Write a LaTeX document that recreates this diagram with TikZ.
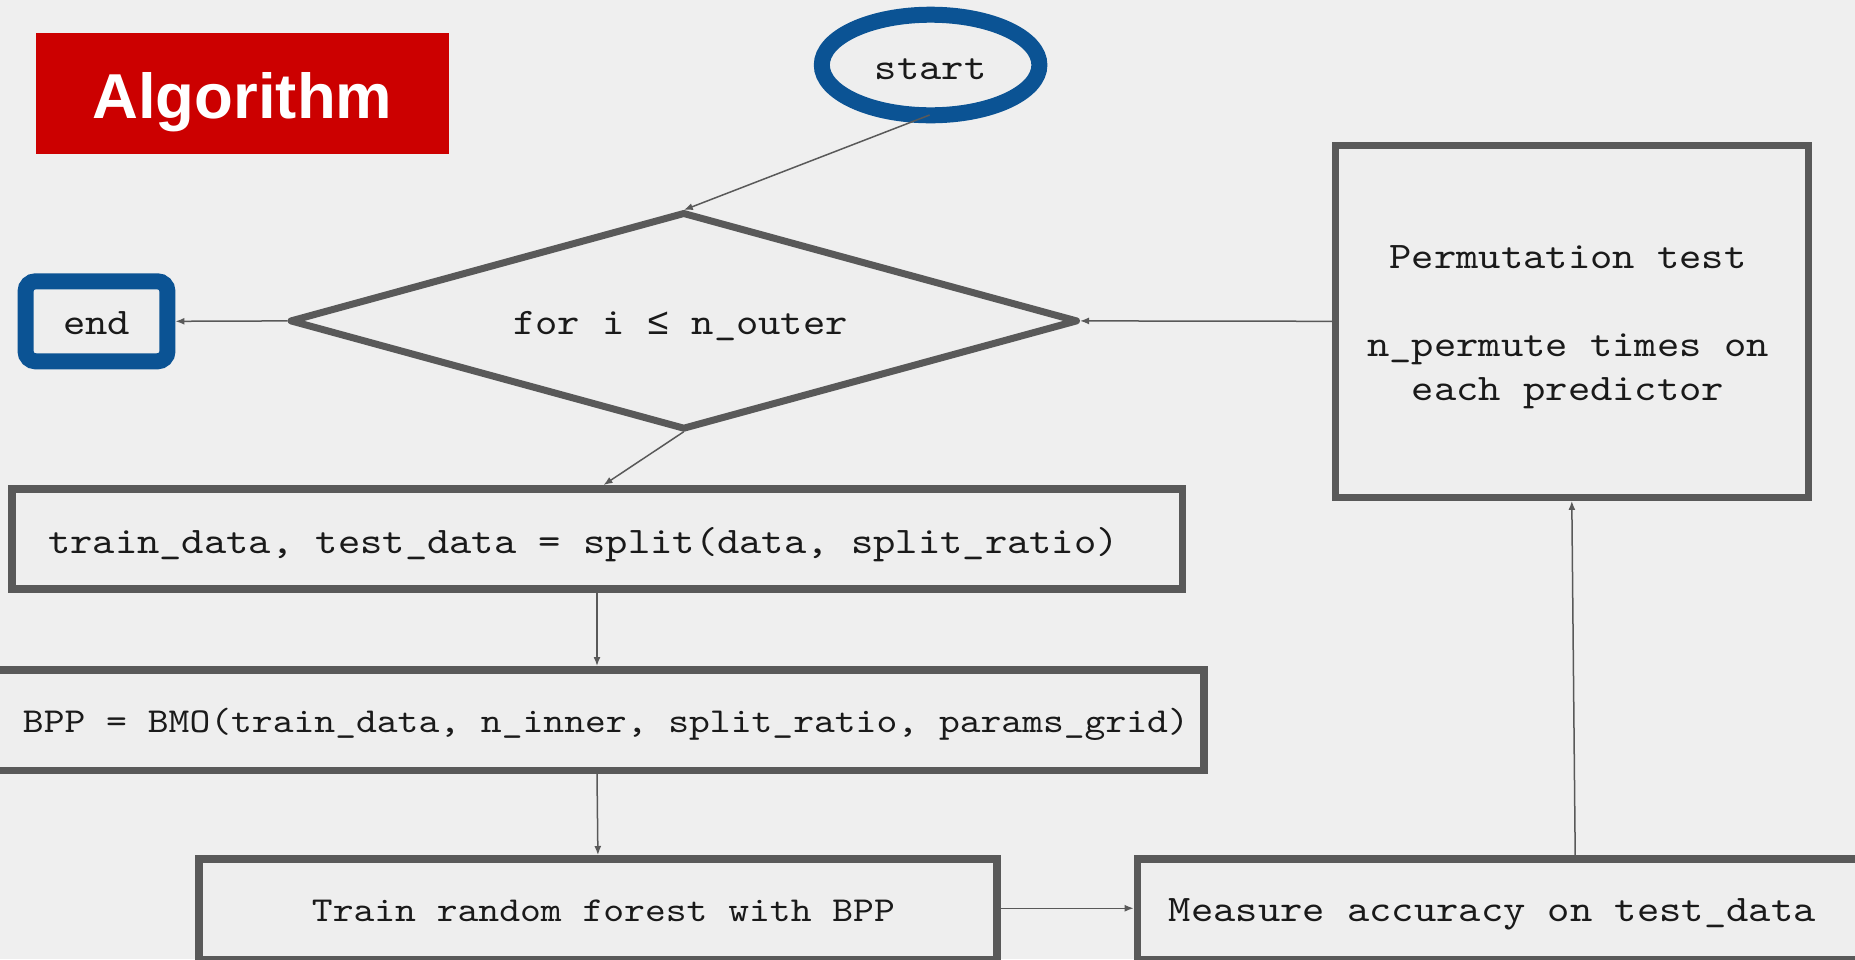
\documentclass[tikz,border=0pt]{standalone}
\usepackage{fontspec}
\setmainfont{Liberation Sans}
\newfontfamily\codefont{lmmono10-regular.otf}[FakeStretch=1.133]
\newfontfamily\symbolmono{Liberation Mono}
\usetikzlibrary{shapes.geometric,arrows.meta,calc}

\definecolor{canvas}{HTML}{EFEFEF}
\definecolor{boxfill}{HTML}{EEEEEE}
\definecolor{edgegrey}{HTML}{595959}
\definecolor{termblue}{HTML}{0B5394}
\definecolor{titlered}{HTML}{CC0000}
\definecolor{ink}{HTML}{1A1A1A}

\tikzset{
  codetext/.style={font=\codefont\fontsize{37.5}{43.3}\selectfont, text=ink},
  smalltext/.style={font=\codefont\fontsize{35}{42}\selectfont, text=ink},
  % baseline sits at half the given height below the node centre
  baseline drop/.style={text height=#1, text depth=0pt},
  stepbox/.style={rectangle, draw=edgegrey, line width=7.5pt, fill=boxfill,
                  inner sep=0pt},
  terminal/.style={draw=termblue, line width=16pt, fill=boxfill, inner sep=0pt,
                   codetext},
  flow/.style={draw=edgegrey, line width=1.5pt,
               -{Latex[length=9pt,width=7pt]}},
}

\begin{document}
\begin{tikzpicture}[x=1pt,y=-1pt]
  \useasboundingbox (0,0) rectangle (1855,959);
  \clip (0,0) rectangle (1855,959);
  \fill[canvas] (0,0) rectangle (1855,959);

  % title banner
  \node[rectangle, fill=titlered, inner sep=0pt,
        minimum width=413.2pt, minimum height=121pt,
        text=white, font=\bfseries\fontsize{63.5}{63.5}\selectfont,
        baseline drop=49.6pt] (title) at (242.4,93.5) {Algorithm};

  % terminals
  \node[terminal, ellipse, minimum width=217.6pt, minimum height=100.6pt,
        baseline drop=28.6pt] (start) at (930.6,65) {start};
  \node[terminal, rectangle, rounded corners=10pt,
        minimum width=141.9pt, minimum height=80pt,
        baseline drop=25.4pt] (end) at (96.5,321.3) {end};

  % loop condition: outline, label and its four tips
  \draw[edgegrey, line width=7pt, line join=round, fill=boxfill]
    (683.8,213.5) -- (1076.5,320.9) -- (683.8,428.2) -- (291.1,320.9) -- cycle;
  \node[codetext, inner sep=0pt, baseline drop=26.2pt] (loop) at (683.8,320.9)
    {\hspace*{-6.6pt}for i {\symbolmono ≤} n\_outer};
  \coordinate (loop-n) at (683.8,210);
  \coordinate (loop-s) at (683.8,431.7);
  \coordinate (loop-w) at (287.6,320.9);
  \coordinate (loop-e) at (1080,320.9);

  % processing steps
  \node[stepbox, codetext, minimum width=1170.5pt, minimum height=100.2pt,
        baseline drop=28.8pt] (split) at (597,538.9)
        {\hspace*{-27pt}train\_data, test\_data = split(data, split\_ratio)};
  \node[stepbox, smalltext, minimum width=1224pt, minimum height=100.5pt,
        baseline drop=24pt] (bmo) at (592,720)
        {\hspace*{27.8pt}BPP = BMO(train\_data, n\_inner, split\_ratio, params\_grid)};
  \node[stepbox, smalltext, minimum width=797.75pt, minimum height=101pt,
        baseline drop=23.5pt] (train) at (597.9,909.25)
        {\hspace*{11pt}Train random forest with BPP};
  \node[stepbox, codetext, minimum width=762.6pt, minimum height=101pt,
        baseline drop=25pt] (measure) at (1518.7,909.25)
        {\hspace*{-53pt}Measure accuracy on test\_data};
  \node[stepbox, line width=7pt, minimum width=472.6pt, minimum height=352.3pt]
        (perm) at (1571.8,321.3) {};
  \node[codetext, inner sep=0pt, anchor=base] (permtext) at (1568,268.3)
        {\begin{tabular}[t]{@{}c@{}}Permutation test\\[45.1pt]
         n\_permute times on\\each predictor\end{tabular}};

  % connectors
  \draw[flow] ($(start.center)+(-1,50)$) -- (loop-n);
  \draw[flow] (loop-s) -- ([xshift=6.5pt]split.north);
  \draw[flow] (loop-w) -- (end.east);
  \draw[flow] (perm.west) -- (loop-e);
  \draw[flow] (split.south) -- ([xshift=5pt]bmo.north);
  \draw[flow] ([xshift=5pt]bmo.south) -- (train.north);
  \draw[flow] ([yshift=1pt]train.east) -- ([yshift=1pt]measure.west);
  \draw[flow] ([xshift=56.5pt]measure.north) -- (perm.south);
\end{tikzpicture}
\end{document}
